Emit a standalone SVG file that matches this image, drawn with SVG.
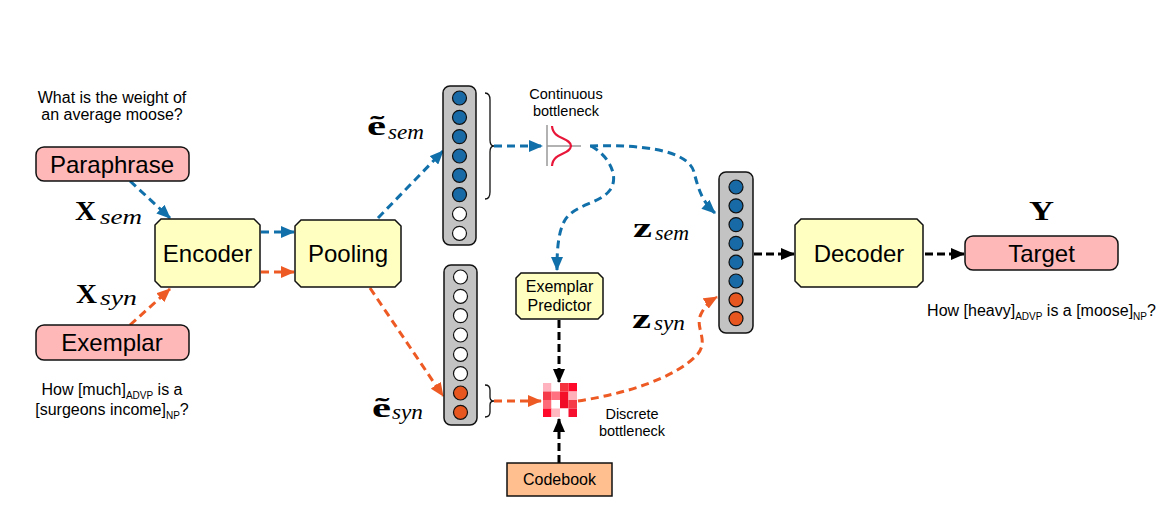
<svg xmlns="http://www.w3.org/2000/svg" width="1174" height="515" viewBox="0 0 1174 515">
<style>
.t{font-family:"Liberation Sans",Arial,sans-serif;fill:#000}
.big{font-size:24px}
.mid{font-size:16px}
.sm{font-size:14.5px}
.box{stroke:#111;stroke-width:1.5}
.pink{fill:#ffb8b8}
.yel{fill:#ffffc2}
.col{fill:#c3c3c3;stroke:#111;stroke-width:1.5}
.cb{fill:#176aa6;stroke:#111;stroke-width:1.2}
.cw{fill:#fff;stroke:#111;stroke-width:1.2}
.co{fill:#e8561f;stroke:#111;stroke-width:1.2}
.bl{fill:none;stroke:#1170aa;stroke-width:3;stroke-dasharray:8 5}
.or{fill:none;stroke:#ee5a24;stroke-width:3;stroke-dasharray:8 5}
.bk{fill:none;stroke:#000;stroke-width:3;stroke-dasharray:8 4}
.mb{font-family:"Liberation Serif","Times New Roman",serif;font-weight:bold;font-size:27px}
.mi{font-family:"Liberation Serif","Times New Roman",serif;font-style:italic;font-size:21px}
.brace{fill:none;stroke:#111;stroke-width:1.3}
</style>
<defs>
<marker id="ab" markerUnits="userSpaceOnUse" markerWidth="14" markerHeight="12" refX="13" refY="6" orient="auto"><path d="M0,0 L14,6 L0,12 z" fill="#1170aa"/></marker>
<marker id="ao" markerUnits="userSpaceOnUse" markerWidth="14" markerHeight="12" refX="13" refY="6" orient="auto"><path d="M0,0 L14,6 L0,12 z" fill="#ee5a24"/></marker>
<marker id="ak" markerUnits="userSpaceOnUse" markerWidth="14" markerHeight="12" refX="13" refY="6" orient="auto"><path d="M0,0 L14,6 L0,12 z" fill="#000"/></marker>
</defs>

<g id="connectors">
<path class="bl" d="M130,181 L170,218" marker-end="url(#ab)"/>
<path class="or" d="M130,325 L170,289" marker-end="url(#ao)"/>
<path class="bl" d="M261,232 L294,232" marker-end="url(#ab)"/>
<path class="or" d="M261,272 L294,272" marker-end="url(#ao)"/>
<path class="bl" d="M378,218 L443,151" marker-end="url(#ab)"/>
<path class="or" d="M370,288 L443,396" marker-end="url(#ao)"/>
<path class="bl" d="M494,146 L542,146" marker-end="url(#ab)"/>
<path class="or" d="M494,401 L541,401" marker-end="url(#ao)"/>
<path class="bl" d="M590,146 C640,144 688,150 694,172 C699,192 703,202 715,213" marker-end="url(#ab)"/>
<path class="bl" d="M591,146 C608,155 620,176 610,190 C600,204 575,204 565,220 C558,232 557,250 557,270" marker-end="url(#ab)"/>
<path class="or" d="M578,401 C625,394 675,378 697,355 C710,340 694,328 701,314 C705,306 710,301 717,297" marker-end="url(#ao)"/>
<path class="bk" d="M559,320 L559,382" marker-end="url(#ak)"/>
<path class="bk" d="M559,463 L559,419" marker-end="url(#ak)"/>
<path class="bk" d="M754,254 L794,254" marker-end="url(#ak)"/>
<path class="bk" d="M925,254 L964,254" marker-end="url(#ak)"/>
</g>

<g id="paraphrase">
<text class="t mid" x="112" y="103" text-anchor="middle">What is the weight of</text>
<text class="t mid" x="112" y="120" text-anchor="middle">an average moose?</text>
<rect class="box pink" x="36" y="147" width="153" height="34" rx="8"/>
<text class="t big" x="112" y="173" text-anchor="middle">Paraphrase</text>
</g>

<g id="xsem">
<text class="mb" x="75" y="220" textLength="21" lengthAdjust="spacingAndGlyphs">X</text>
<text class="mi" x="100" y="224" textLength="42" lengthAdjust="spacingAndGlyphs">sem</text>
</g>

<g id="exemplar">
<rect class="box pink" x="36" y="325" width="153" height="35" rx="8"/>
<text class="t big" x="112" y="351" text-anchor="middle">Exemplar</text>
<text class="t mid" x="112" y="395" text-anchor="middle">How [much]<tspan font-size="10" dy="4">ADVP</tspan><tspan dy="-4"> is a</tspan></text>
<text class="t mid" x="112" y="415" text-anchor="middle">[surgeons income]<tspan font-size="10" dy="4">NP</tspan><tspan dy="-4">?</tspan></text>
</g>

<g id="xsyn">
<text class="mb" x="76" y="303" textLength="21" lengthAdjust="spacingAndGlyphs">X</text>
<text class="mi" x="100" y="305" textLength="37" lengthAdjust="spacingAndGlyphs">syn</text>
</g>

<g id="encoder">
<path class="box yel" d="M161,219 H254 L260,225 V281 L254,287 H161 L155,281 V225 Z"/>
<text class="t big" x="207.5" y="262" text-anchor="middle">Encoder</text>
</g>

<g id="pooling">
<path class="box yel" d="M301,220 H395 L401,226 V281 L395,287 H301 L295,281 V226 Z"/>
<text class="t big" x="348" y="262" text-anchor="middle">Pooling</text>
</g>

<g id="esem">
<text class="mb" x="367" y="135" textLength="19" lengthAdjust="spacingAndGlyphs">ẽ</text>
<text class="mi" x="388" y="139" textLength="36" lengthAdjust="spacingAndGlyphs">sem</text>
</g>

<g id="vec-sem">
<rect class="col" x="443" y="86" width="33" height="159" rx="7"/>
<circle class="cb" cx="459.5" cy="98" r="7"/>
<circle class="cb" cx="459.5" cy="117.3" r="7"/>
<circle class="cb" cx="459.5" cy="136.6" r="7"/>
<circle class="cb" cx="459.5" cy="156" r="7"/>
<circle class="cb" cx="459.5" cy="175.3" r="7"/>
<circle class="cb" cx="459.5" cy="194.6" r="7"/>
<circle class="cw" cx="459.5" cy="214" r="7"/>
<circle class="cw" cx="459.5" cy="233.3" r="7"/>
<path class="brace" d="M485,93 Q490,93 490,100 L490,140 Q490,146 494,146 Q490,146 490,152 L490,192 Q490,199 485,199"/>
</g>

<g id="esyn">
<text class="mb" x="372" y="417" textLength="19" lengthAdjust="spacingAndGlyphs">ẽ</text>
<text class="mi" x="392" y="419" textLength="31" lengthAdjust="spacingAndGlyphs">syn</text>
</g>

<g id="vec-syn">
<rect class="col" x="444" y="265" width="33" height="160" rx="7"/>
<circle class="cw" cx="460.5" cy="277" r="7"/>
<circle class="cw" cx="460.5" cy="296.3" r="7"/>
<circle class="cw" cx="460.5" cy="315.6" r="7"/>
<circle class="cw" cx="460.5" cy="335" r="7"/>
<circle class="cw" cx="460.5" cy="354.3" r="7"/>
<circle class="cw" cx="460.5" cy="373.6" r="7"/>
<circle class="co" cx="460.5" cy="393" r="7"/>
<circle class="co" cx="460.5" cy="412.3" r="7"/>
<path class="brace" d="M485,385 Q490,385 490,390 L490,397 Q490,401 494,401 Q490,401 490,405 L490,412 Q490,417 485,417"/>
</g>

<g id="continuous-bottleneck">
<text class="t sm" x="566" y="99" text-anchor="middle">Continuous</text>
<text class="t sm" x="566" y="116" text-anchor="middle">bottleneck</text>
<line x1="547" y1="125" x2="547" y2="166" stroke="#999" stroke-width="1.5"/>
<line x1="547" y1="146" x2="581" y2="146" stroke="#999" stroke-width="1.5"/>
<path d="M552,126 C553,140 570,137 571,146 C570,155 553,152 552,166" fill="none" stroke="#e8173a" stroke-width="2.2"/>
</g>

<g id="exemplar-predictor">
<path class="box yel" d="M521,273 H598 L603,278 V314 L598,319 H521 L516,314 V278 Z"/>
<text class="t mid" x="559.5" y="292" text-anchor="middle">Exemplar</text>
<text class="t mid" x="559.5" y="311" text-anchor="middle">Predictor</text>
</g>

<g id="discrete-bottleneck">
<rect x="543" y="383" width="8.5" height="8.5" fill="#ffb3bf"/>
<rect x="551.5" y="383" width="8.5" height="8.5" fill="#ffffff"/>
<rect x="560" y="383" width="8.5" height="8.5" fill="#f5333f"/>
<rect x="568.5" y="383" width="8.5" height="8.5" fill="#ff0a2a"/>
<rect x="543" y="391.5" width="8.5" height="8.5" fill="#f53a4a"/>
<rect x="551.5" y="391.5" width="8.5" height="8.5" fill="#ff7080"/>
<rect x="560" y="391.5" width="8.5" height="8.5" fill="#f5102a"/>
<rect x="568.5" y="391.5" width="8.5" height="8.5" fill="#ffb0b8"/>
<rect x="543" y="400" width="8.5" height="8.5" fill="#ff6a78"/>
<rect x="551.5" y="400" width="8.5" height="8.5" fill="#ffffff"/>
<rect x="560" y="400" width="8.5" height="8.5" fill="#f00a25"/>
<rect x="568.5" y="400" width="8.5" height="8.5" fill="#f53a48"/>
<rect x="543" y="408.5" width="8.5" height="8.5" fill="#ff0a2a"/>
<rect x="551.5" y="408.5" width="8.5" height="8.5" fill="#ffb8c0"/>
<rect x="560" y="408.5" width="8.5" height="8.5" fill="#ffffff"/>
<rect x="568.5" y="408.5" width="8.5" height="8.5" fill="#f51030"/>
<text class="t sm" x="632" y="419" text-anchor="middle">Discrete</text>
<text class="t sm" x="632" y="436" text-anchor="middle">bottleneck</text>
</g>

<g id="codebook">
<rect x="507" y="463" width="105" height="33" fill="#ffbf8f" stroke="#111" stroke-width="1.5"/>
<text class="t" font-size="16" x="559.5" y="485" text-anchor="middle">Codebook</text>
</g>

<g id="zsem">
<text class="mb" x="633" y="237" textLength="19" lengthAdjust="spacingAndGlyphs">z</text>
<text class="mi" x="655" y="240" textLength="34" lengthAdjust="spacingAndGlyphs">sem</text>
</g>
<g id="zsyn">
<text class="mb" x="632" y="328" textLength="19" lengthAdjust="spacingAndGlyphs">z</text>
<text class="mi" x="654" y="330" textLength="31" lengthAdjust="spacingAndGlyphs">syn</text>
</g>

<g id="vec-z">
<rect class="col" x="719" y="172" width="34" height="161" rx="7"/>
<circle class="cb" cx="736" cy="187" r="7"/>
<circle class="cb" cx="736" cy="205.8" r="7"/>
<circle class="cb" cx="736" cy="224.6" r="7"/>
<circle class="cb" cx="736" cy="243.4" r="7"/>
<circle class="cb" cx="736" cy="262.2" r="7"/>
<circle class="cb" cx="736" cy="281" r="7"/>
<circle class="co" cx="736" cy="299.8" r="7"/>
<circle class="co" cx="736" cy="318.6" r="7"/>
</g>

<g id="decoder">
<path class="box yel" d="M801,219 H917 L923,225 V281 L917,287 H801 L795,281 V225 Z"/>
<text class="t big" x="859" y="262" text-anchor="middle">Decoder</text>
</g>

<g id="target">
<text class="mb" x="1029" y="220" textLength="25" lengthAdjust="spacingAndGlyphs">Y</text>
<rect class="box pink" x="965" y="236" width="153" height="34" rx="8"/>
<text class="t big" x="1041.5" y="262" text-anchor="middle">Target</text>
<text class="t mid" x="1041.5" y="316" text-anchor="middle">How [heavy]<tspan font-size="10" dy="4">ADVP</tspan><tspan dy="-4"> is a [moose]</tspan><tspan font-size="10" dy="4">NP</tspan><tspan dy="-4">?</tspan></text>
</g>
</svg>
